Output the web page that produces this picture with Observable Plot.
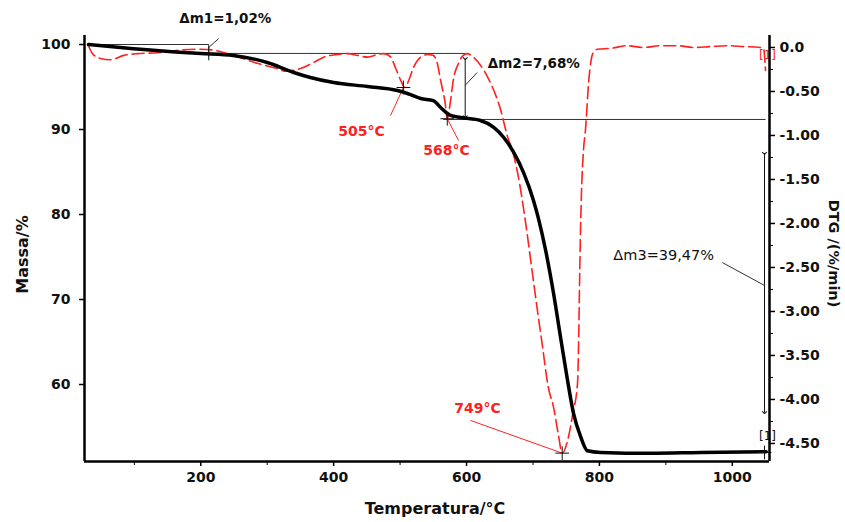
<!DOCTYPE html>
<html><head><meta charset="utf-8">
<script src="https://cdn.jsdelivr.net/npm/d3@7"></script>
<script src="https://cdn.jsdelivr.net/npm/@observablehq/plot@0.6"></script>
<style>html,body{margin:0;padding:0;background:#fff;}</style>
</head><body><div id="chart"></div>
<script>
// TG curve (mass %)
const tgTemp = [31, 99, 174, 200, 249, 300, 340, 365, 400, 451, 496, 511, 531, 550, 561, 576, 591, 621, 641, 656, 671, 686, 701, 708, 719, 731, 741, 752, 761, 772, 782, 802, 877, 952, 1051];
const tgMass = [100.0, 99.5, 99.06, 98.94, 98.71, 97.88, 96.71, 96.12, 95.53, 95.06, 94.59, 94.24, 93.65, 93.4, 92.59, 91.65, 91.41, 91.06, 90.24, 89.06, 87.3, 84.9, 81.6, 79.6, 75.8, 70.7, 65.8, 60.5, 56.6, 53.8, 52.2, 52.0, 51.9, 52.0, 52.1];
// DTG curve (%/min)
const dtgTemp = [31, 37, 49, 64, 84, 105, 135, 169, 200, 219, 249, 285, 315, 328, 350, 370, 385, 406, 421, 436, 451, 466, 475, 486, 493, 501, 507, 513, 520, 531, 541, 550, 556, 561, 568, 571, 576, 580, 588, 595, 601, 610, 632, 651, 662, 669, 677, 684, 690, 698, 706, 714, 723, 731, 738, 744, 752, 760, 767, 769, 770, 772, 776, 779, 784, 790, 797, 817, 842, 866, 892, 918, 942, 967, 993, 1017, 1042, 1047, 1050];
const dtgRate = [0.02, -0.07, -0.125, -0.14, -0.09, -0.07, -0.06, -0.03, -0.02, -0.03, -0.09, -0.18, -0.24, -0.27, -0.24, -0.17, -0.11, -0.08, -0.07, -0.09, -0.11, -0.08, -0.07, -0.11, -0.23, -0.375, -0.455, -0.375, -0.23, -0.11, -0.08, -0.09, -0.18, -0.375, -0.64, -0.81, -0.60, -0.375, -0.18, -0.09, -0.07, -0.11, -0.34, -0.70, -1.02, -1.17, -1.43, -1.74, -2.05, -2.50, -2.95, -3.38, -3.86, -4.09, -4.39, -4.61, -4.47, -4.16, -3.82, -3.22, -2.73, -1.93, -1.17, -0.94, -0.375, -0.07, -0.02, -0.01, 0.02, 0.0, 0.02, 0.02, 0.0, 0.01, 0.02, 0.01, 0.0, -0.01, -0.26];

const massTicks = [60, 70, 80, 90, 100];
const tempTicks = [200, 400, 600, 800, 1000];
const tempMinorTicks = [100, 300, 500, 700, 900];
const dtgTicks = [0, -0.5, -1, -1.5, -2, -2.5, -3, -3.5, -4, -4.5];
const dtgTickLabels = ["0.0", "-0.50", "-1.00", "-1.50", "-2.00", "-2.50", "-3.00", "-3.50", "-4.00", "-4.50"];
const dtgMinorTicks = [-0.25, -0.75, -1.25, -1.75, -2.25, -2.75, -3.25, -3.75, -4.25];

const tempDomain = [25, 1056];
const massDomain = [50.94, 101.06];
const dtgDomain = [-4.705, 0.136];
const toMass = v => massDomain[0] + (v - dtgDomain[0]) / (dtgDomain[1] - dtgDomain[0]) * (massDomain[1] - massDomain[0]);

const tg = tgTemp.map((T, i) => ({T, m: tgMass[i]}));
const dtg = dtgTemp.map((T, i) => ({T, m: toMass(dtgRate[i])}));
const dtgMajor = dtgTicks.map(toMass);
const dtgLabelMap = new Map(dtgMajor.map((m, i) => [m, dtgTickLabels[i]]));

const RED = "#ff2020";
const INK = "#111";
const LINE = "#333";
const seg = (x1, y1, x2, y2) => [{x1, y1, x2, y2}];
const L = {x1: "x1", y1: "y1", x2: "x2", y2: "y2"};

const chart = Plot.plot({
  width: 845, height: 522,
  marginLeft: 84, marginRight: 76, marginTop: 35, marginBottom: 61,
  x: {domain: tempDomain, label: null},
  y: {domain: massDomain, label: null},
  style: {fontFamily: "DejaVu Sans", fontSize: "14px", fontWeight: "bold", color: INK, background: "#fff"},
  marks: [
    // annotation lines
    Plot.link(seg(30, 100.0, 212, 100.0), {...L, stroke: LINE, strokeWidth: 1}),
    Plot.link(seg(212, 100.0, 212, 98.6), {...L, stroke: LINE, strokeWidth: 1}),
    Plot.link(seg(212, 99.65, 227, 100.7), {...L, stroke: LINE, strokeWidth: 1}),
    Plot.link(seg(212, 98.95, 598, 98.95), {...L, stroke: LINE, strokeWidth: 1}),
    Plot.link(seg(565, 91.18, 1050, 91.18), {...L, stroke: LINE, strokeWidth: 1}),
    Plot.link(seg(598, 98.35, 598, 91.5), {...L, stroke: INK, strokeWidth: 1, markerStart: "arrow", markerEnd: "arrow"}),
    Plot.link(seg(598, 95.2, 616, 96.7), {...L, stroke: LINE, strokeWidth: 1}),
    Plot.link(seg(1048.5, 87.2, 1048.5, 56.7), {...L, stroke: INK, strokeWidth: 1, markerStart: "arrow", markerEnd: "arrow"}),
    Plot.link(seg(985, 74.35, 1048.5, 71.65), {...L, stroke: LINE, strokeWidth: 1}),
    // red leaders
    Plot.link(seg(485.6, 91.65, 505, toMass(-0.455)), {...L, stroke: RED, strokeWidth: 1}),
    Plot.link(seg(588, 88.7, 571, toMass(-0.81)), {...L, stroke: RED, strokeWidth: 1}),
    Plot.link(seg(606, 55.77, 744, toMass(-4.61)), {...L, stroke: RED, strokeWidth: 1}),
    // curves
    Plot.line(dtg, {x: "T", y: "m", stroke: RED, strokeWidth: 1.6, strokeDasharray: "12,5", curve: "monotone-x"}),
    Plot.line(tg, {x: "T", y: "m", stroke: "#000", strokeWidth: 3.5, curve: "monotone-x"}),
    // cross markers
    Plot.dot([{T: 212, m: 98.95}, {T: 505, m: toMass(-0.455)}, {T: 571, m: toMass(-0.81)}, {T: 744, m: toMass(-4.61)}, {T: 1048.5, m: 52.0}],
      {x: "T", y: "m", symbol: "plus", r: 4.5, stroke: INK, strokeWidth: 1}),
    // texts
    Plot.text(["Δm1=1,02%"], {x: 237, y: 103.06, fontSize: 13.5, fontWeight: "bold", fill: INK}),
    Plot.text(["Δm2=7,68%"], {x: 632, y: 97.77, textAnchor: "start", fontSize: 13.5, fontWeight: "bold", fill: INK}),
    Plot.text(["Δm3=39,47%"], {x: 821, y: 75.2, textAnchor: "start", fontSize: 14.5, fontWeight: "normal", fill: INK}),
    Plot.text(["505°C"], {x: 442, y: 89.77, fontSize: 14, fill: RED}),
    Plot.text(["568°C"], {x: 570, y: 87.5, fontSize: 14, fill: RED}),
    Plot.text(["749°C"], {x: 616.5, y: 57.17, fontSize: 14, fill: RED}),
    Plot.text(["[1]"], {x: 1053, y: 98.71, fontSize: 12, fontWeight: "normal", fill: RED}),
    Plot.text(["[1]"], {x: 1053, y: 53.9, fontSize: 12, fontWeight: "normal", fill: INK}),
    // frame
    Plot.ruleX([tempDomain[0]], {stroke: "#000", strokeWidth: 2.5}),
    Plot.ruleX([tempDomain[1]], {stroke: "#000", strokeWidth: 2.5}),
    Plot.ruleY([massDomain[0]], {stroke: "#000", strokeWidth: 2.5}),
    // axes
    Plot.axisY(massTicks, {anchor: "left", tickSize: 5, tickPadding: 9, label: null, tickFormat: d => String(d), fontSize: 14, fontWeight: "bold", stroke: "#000", strokeWidth: 1.5}),
    Plot.axisY(dtgMajor, {anchor: "right", tickSize: 5, tickPadding: 5, label: null, tickFormat: d => dtgLabelMap.get(d), fontSize: 14, fontWeight: "bold", stroke: "#000", strokeWidth: 1.5}),
    Plot.axisY(dtgMinorTicks.map(toMass), {anchor: "right", tickSize: 3, label: null, tickFormat: () => "", stroke: "#000", strokeWidth: 1}),
    Plot.axisX(tempTicks, {anchor: "bottom", tickSize: 5, tickPadding: 6, label: null, tickFormat: d => String(d), fontSize: 14, fontWeight: "bold", stroke: "#000", strokeWidth: 1.5}),
    Plot.axisX(tempMinorTicks, {anchor: "bottom", tickSize: 4, label: null, tickFormat: () => "", stroke: "#000", strokeWidth: 1}),
    // axis titles
    Plot.text(["Temperatura/°C"], {frameAnchor: "bottom", dx: 8, dy: 47, lineAnchor: "middle", fontSize: 16, fontWeight: "bold", fill: INK}),
    Plot.text(["Massa/%"], {frameAnchor: "left", rotate: -90, dx: -62, dy: 6, textAnchor: "middle", lineAnchor: "middle", fontSize: 16, fontWeight: "bold", fill: INK}),
    Plot.text(["DTG /(%/min)"], {frameAnchor: "right", rotate: 90, dx: 64, dy: 5, textAnchor: "middle", lineAnchor: "middle", fontSize: 14.5, fontWeight: "bold", fill: INK})
  ]
});
document.getElementById("chart").appendChild(chart);
</script>
</body></html>
